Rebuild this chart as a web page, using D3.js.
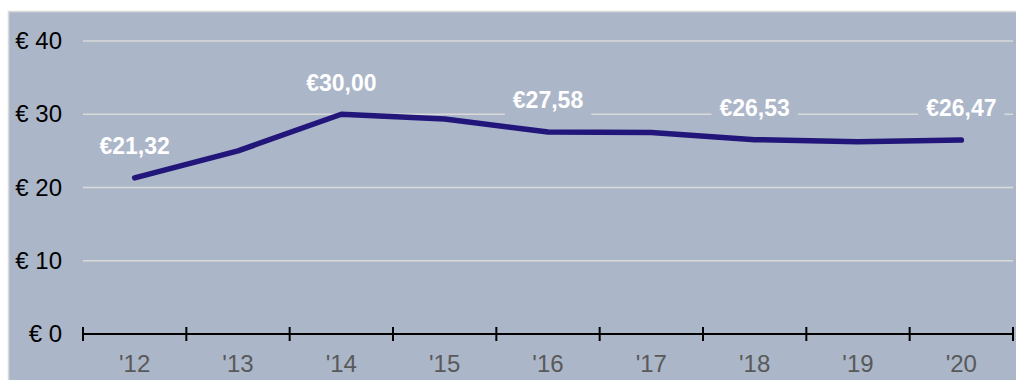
<!DOCTYPE html>
<html>
<head>
<meta charset="utf-8">
<script src="https://cdn.jsdelivr.net/npm/d3@7/dist/d3.min.js"></script>
<style>
  html, body { margin: 0; padding: 0; background: #ffffff; }
  svg { display: block; }
  text { font-family: "Liberation Sans", Arial, sans-serif; }
</style>
</head>
<body>
<svg id="chart" width="1016" height="380"></svg>
<script>
// Average price per year
const years = ["'12", "'13", "'14", "'15", "'16", "'17", "'18", "'19", "'20"];
const prices = [21.32, 25.0, 30.0, 29.35, 27.58, 27.5, 26.53, 26.25, 26.47];
// Years whose value is printed above the line
const labelledYears = ["'12", "'14", "'16", "'18", "'20"];
const yTicks = [0, 10, 20, 30, 40];

const W = 1016, H = 380;
const margin = { left: 83, right: 3, top: 41, bottom: 46 };
const bg = "#acb6c9";

const svg = d3.select("#chart");

// panel background with a light frame
svg.append("rect")
  .attr("x", 8.5).attr("y", 11.5)
  .attr("width", W).attr("height", H)
  .attr("fill", bg)
  .attr("stroke", "#d9d9d9").attr("stroke-width", 1.5);

const x = d3.scaleBand()
  .domain(years)
  .range([margin.left, W - margin.right])
  .paddingInner(0).paddingOuter(0);

const y = d3.scaleLinear()
  .domain([0, 40])
  .range([H - margin.bottom, margin.top]);

// horizontal gridlines
svg.append("g")
  .selectAll("line")
  .data(yTicks.filter(d => d > 0))
  .join("line")
  .attr("x1", margin.left).attr("x2", W - margin.right)
  .attr("y1", d => y(d)).attr("y2", d => y(d))
  .attr("stroke", "#d9d9d9").attr("stroke-width", 1.5);

// y axis labels
const yAxis = d3.axisLeft(y)
  .tickValues(yTicks)
  .tickSize(0)
  .tickPadding(21)
  .tickFormat(d => "€ " + d);
svg.append("g")
  .attr("transform", `translate(${margin.left},0)`)
  .call(yAxis)
  .call(g => g.select(".domain").remove())
  .call(g => g.selectAll("text")
    .attr("font-size", 24)
    .attr("fill", "#000000")
    .style("font-family", "'Liberation Sans', Arial, sans-serif"));

// x axis: ticks on category boundaries
const boundaries = years.map(d => x(d)).concat([x(years[years.length - 1]) + x.bandwidth()]);
const xAxisG = svg.append("g");
xAxisG.append("line")
  .attr("x1", boundaries[0]).attr("x2", boundaries[boundaries.length - 1])
  .attr("y1", y(0)).attr("y2", y(0))
  .attr("stroke", "#000").attr("stroke-width", 2);
xAxisG.selectAll("line.tick")
  .data(boundaries)
  .join("line")
  .attr("class", "tick")
  .attr("x1", d => d).attr("x2", d => d)
  .attr("y1", y(0) - 7).attr("y2", y(0) + 7)
  .attr("stroke", "#000").attr("stroke-width", 2);
xAxisG.selectAll("text")
  .data(years)
  .join("text")
  .attr("x", d => x(d) + x.bandwidth() / 2)
  .attr("y", y(0) + 38)
  .attr("text-anchor", "middle")
  .attr("font-size", 24)
  .attr("fill", "#595959")
  .text(d => d);

// price line
const line = d3.line()
  .x((d, i) => x(years[i]) + x.bandwidth() / 2)
  .y(d => y(d));
svg.append("path")
  .datum(prices)
  .attr("d", line)
  .attr("fill", "none")
  .attr("stroke", "#22167a")
  .attr("stroke-width", 5.5)
  .attr("stroke-linejoin", "round")
  .attr("stroke-linecap", "round");

// value labels with a background that masks the gridlines
const fmt = v => "€" + v.toFixed(2).replace(".", ",");
const labels = svg.append("g")
  .selectAll("g")
  .data(labelledYears.map(yr => ({ yr, v: prices[years.indexOf(yr)] })))
  .join("g")
  .attr("transform", d => `translate(${x(d.yr) + x.bandwidth() / 2},${y(d.v) - 32})`);
labels.append("text")
  .attr("text-anchor", "middle")
  .attr("dy", "0.36em")
  .attr("font-size", 23)
  .attr("font-weight", "bold")
  .attr("fill", "#ffffff")
  .text(d => fmt(d.v));
labels.each(function () {
  const g = d3.select(this);
  const b = g.select("text").node().getBBox();
  g.insert("rect", "text")
    .attr("x", b.x - 8).attr("y", b.y - 4)
    .attr("width", b.width + 16).attr("height", b.height + 8)
    .attr("fill", bg);
});
</script>
</body>
</html>
